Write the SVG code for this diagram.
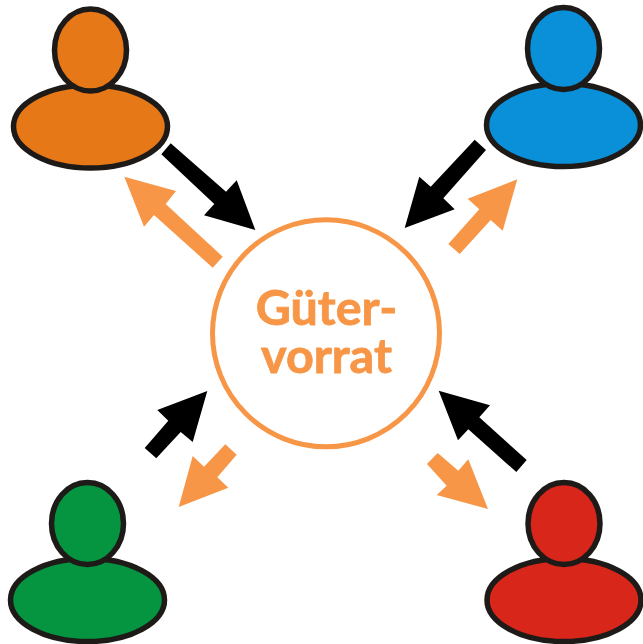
<svg xmlns="http://www.w3.org/2000/svg" width="643" height="644" viewBox="0 0 643 644">
<style>
.b{stroke:#1d1a18;stroke-width:5.5}
.t{font-family:"Lato","Open Sans",sans-serif;font-weight:700;font-size:48.500px;fill:#f79646;stroke:#f79646;stroke-width:.8;text-anchor:middle}
.k{fill:#000}.o{fill:#f79646}
</style>
<defs>
<g id="p"><ellipse class="b" cx="0" cy="0" rx="77" ry="41.500"/><ellipse class="b" cx="0" cy="-76.500" rx="36" ry="41"/></g>
</defs>
<g id="person-orange" fill="#e67817"><use href="#p" x="90.500" y="126.500"/></g>
<g id="person-blue" fill="#0a8fd9"><use href="#p" x="563.500" y="125"/></g>
<g id="person-green" fill="#05943f"><use href="#p" x="87.500" y="600"/></g>
<g id="person-red" fill="#d9261a"><use href="#p" x="564" y="600"/></g>
<g id="store"><circle cx="326" cy="333.300" r="113.500" fill="#fff" stroke="#f79646" stroke-width="5"/>
<text class="t" x="326.500" y="324.500">Güter-</text><text class="t" x="326.500" y="372.500">vorrat</text></g>
<g id="connectors">
<polygon class="k" points="170.700,143.300 161.300,154.300 214.300,204 204,215.300 255.300,230 236.700,180.300 226,191.700"/>
<polygon class="o" points="222.700,256.700 212.700,267.700 154,215 144,226.700 124.300,176.700 176,191 165.700,204"/>
<polygon class="k" points="474.700,139.700 486,150 443.300,198.300 454.700,209.300 404.700,228 419.300,176.700 430.700,186.700"/>
<polygon class="o" points="448.300,244 459.700,254 490.700,220 502.700,230.700 517.300,179.300 467.700,198.700 479.300,209.300"/>
<polygon class="k" points="144.700,448 156.300,458.300 180.700,432 192.700,442 207.300,391 157.300,410 168.300,420.700"/>
<polygon class="o" points="225.300,444.300 236.700,454.700 217.300,477.300 228.300,487.700 178.700,507 192.700,456 204,466.700"/>
<polygon class="k" points="526.700,460 516.300,472 468.300,429.300 458,440.300 438.700,390.700 490,405.300 479.300,417.300"/>
<polygon class="o" points="437.700,453 427,464 446.700,485.700 436.700,495 488,509 468.300,459.300 458.300,470.700"/>
</g>
</svg>
